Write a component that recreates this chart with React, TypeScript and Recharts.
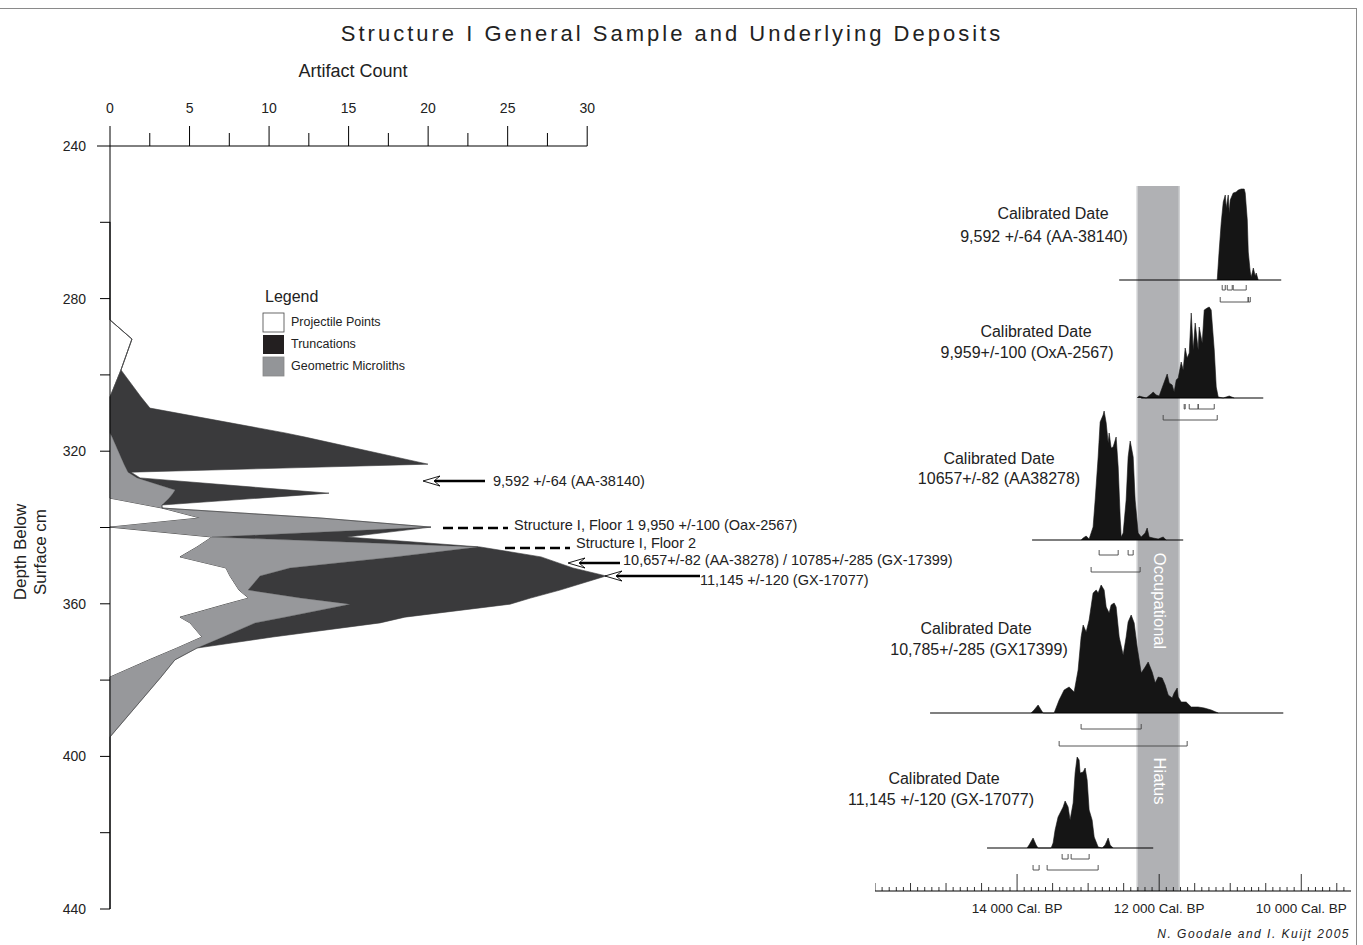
import React from 'react';
import {
  AreaChart,
  Area,
  ComposedChart,
  XAxis,
  YAxis,
  ReferenceLine
} from 'recharts';

// ---- left panel: artifact counts by depth (stacked) ----
const depths = [259.9, 285.6, 290.6, 298.7, 305.8, 308.7, 315.2, 316.3, 323.4, 325.5, 327.0, 330.2, 331.0, 332.3, 334.1, 334.9, 337.5, 339.9, 342.5, 345.1, 347.7, 350.6, 352.7, 356.4, 358.5, 360.1, 363.5, 365.0, 368.7, 371.6, 374.7, 379.2, 394.9, 440];
const projectilePoints = [0, 0, 1.38, 0.69, 0, 0, 0, 0, 0, 0, 0, 0, 0, 0, 2.26, 3.27, 5.66, 0, 6.41, 5.47, 4.4, 7.29, 7.54, 8.11, 8.71, 7.29, 4.4, 5.03, 5.78, 4.21, 2.45, 0, 0, 0];
const geometricMicroliths = [0, 0, 0, 0, 0, 0, 0, 0.13, 0.88, 1.13, 1.7, 4.09, 3.96, 3.71, 1.01, 0, 7.54, 20.18, 0, 17.67, 13.52, 4.02, 1.89, 0.57, 3.27, 7.8, 6.6, 4.09, 1.32, 1.26, 1.63, 3.21, 0, 0];
const truncations = [0, 0, 0, 0, 1.95, 2.51, 11.0, 12.13, 19.11, 0.19, 0.19, 7.23, 9.81, 5.66, 0, 0, 0, 0, 8.49, 0.13, 9.18, 17.79, 21.76, 19.61, 14.46, 10.06, 7.54, 7.86, 3.14, 0, 0, 0, 0, 0];

const artifactTicks = [0, 2.5, 5, 7.5, 10, 12.5, 15, 17.5, 20, 22.5, 25, 27.5, 30];
const depthTicks = [240, 260, 280, 300, 320, 340, 360, 380, 400, 420, 440];

// ---- right panel: calibrated date distributions [cal BP, relative probability] ----
const densityAA38140 = [[11183, 0], [11155, 30], [11127, 57], [11098, 78], [11070, 85], [11056, 72], [11028, 85], [11014, 67], [11000, 80], [10958, 87], [10915, 88], [10887, 90], [10845, 91], [10803, 91], [10789, 87], [10760, 60], [10746, 28], [10718, 8], [10704, 3], [10675, 12], [10648, 4], [10634, 7], [10606, 0]];
const densityOxA2567 = [[12310, 0], [12282, 2], [12183, 0], [12113, 4], [12084, 6], [12042, 3], [12000, 2], [11944, 13], [11887, 24], [11859, 15], [11817, 13], [11789, 6], [11760, 18], [11732, 20], [11690, 36], [11662, 28], [11634, 50], [11606, 40], [11577, 45], [11549, 85], [11521, 48], [11493, 75], [11451, 48], [11437, 71], [11394, 55], [11366, 88], [11324, 90], [11296, 91], [11268, 88], [11239, 61], [11225, 48], [11197, 11], [11169, 1], [11099, 0], [11014, 2], [10944, 0]];
const densityAA38278 = [[13099, 0], [13070, 2], [13028, 4], [12986, 1], [12930, 13], [12901, 40], [12859, 83], [12831, 118], [12789, 125], [12775, 129], [12746, 117], [12718, 97], [12704, 107], [12676, 92], [12648, 93], [12606, 103], [12577, 73], [12549, 23], [12535, 3], [12507, 7], [12465, 40], [12437, 83], [12408, 99], [12366, 83], [12338, 40], [12296, 7], [12253, 3], [12197, 7], [12169, 12], [12141, 3], [12085, 2], [12014, 1], [11944, 3], [11901, 0]];
const densityGX17399 = [[13803, 0], [13761, 3], [13704, 8], [13662, 3], [13634, 0], [13479, 0], [13408, 13], [13338, 23], [13268, 26], [13197, 21], [13141, 43], [13099, 76], [13070, 88], [13028, 81], [12986, 93], [12930, 120], [12887, 123], [12859, 120], [12817, 128], [12775, 123], [12746, 106], [12704, 100], [12676, 108], [12634, 110], [12606, 106], [12563, 76], [12507, 58], [12465, 76], [12437, 91], [12394, 98], [12352, 90], [12310, 66], [12253, 40], [12197, 46], [12155, 51], [12099, 41], [12056, 30], [12014, 36], [11958, 35], [11916, 28], [11873, 18], [11817, 15], [11789, 20], [11746, 25], [11732, 16], [11690, 11], [11620, 11], [11549, 6], [11451, 6], [11366, 5], [11268, 3], [11169, 0]];
const densityGX17077 = [[13859, 0], [13831, 3], [13775, 10], [13732, 3], [13704, 0], [13521, 0], [13493, 5], [13465, 18], [13423, 31], [13352, 41], [13324, 47], [13282, 41], [13254, 28], [13211, 45], [13183, 75], [13155, 91], [13127, 88], [13113, 75], [13070, 76], [13042, 80], [13014, 68], [12986, 38], [12944, 28], [12915, 11], [12859, 1], [12803, 0], [12761, 3], [12718, 10], [12690, 3], [12648, 0]];

// calibrated ranges (1 sigma, 2 sigma) and baseline extents, cal BP
const rangesAA38140 = { one: [[11113, 11070], [11042, 10972], [10958, 10775]], two: [[11141, 10747], [10747, 10718]], line: [12563, 10282] };
const rangesOxA2567 = { one: [[11648, 11634], [11577, 11451], [11451, 11225]], two: [[11944, 11183]], line: [12253, 10535] };
const rangesAA38278 = { one: [[12845, 12577], [12437, 12366]], two: [[12958, 12268]], line: [13789, 11662] };
const rangesGX17399 = { one: [[13099, 12253]], two: [[13408, 11606]], line: [15225, 10253] };
const rangesGX17077 = { one: [[13366, 13282], [13239, 12986]], two: [[13775, 13690], [13577, 12859]], line: [14423, 12084] };

// occupational gap (cal BP)
const hiatusBand = [12310, 11718];
const calTicks = Array.from({ length: 67 }, (_, i) => 9400 + i * 100);
const calLabels = [14000, 12000, 10000];

const FONT = "'Liberation Sans', Arial, Helvetica, sans-serif";
const CAL_LEFT = 875;
const CAL_W = 476;

const depthData = depths.map((depth, i) => ({
  depth,
  pp: projectilePoints[i],
  gm: geometricMicroliths[i],
  tr: truncations[i]
}));

const bandData = hiatusBand.map((bp) => ({ bp, band: 1 }));

const TopTick = (props: any) => {
  const { x, y, payload } = props;
  const v = payload.value;
  const major = v % 5 === 0;
  return (
    <g>
      <line x1={x} x2={x} y1={y} y2={y - (major ? 20 : 13)} stroke="#000" strokeWidth={1} />
      {major && (
        <text x={x} y={y - 33} textAnchor="middle" fontSize={14} fill="#222">
          {v}
        </text>
      )}
    </g>
  );
};

const DepthTick = (props: any) => {
  const { x, y, payload } = props;
  const v = payload.value;
  return (
    <g>
      <line x1={x - (v === 240 ? 13 : 10)} x2={x} y1={y} y2={y} stroke="#000" strokeWidth={1} />
      {v % 40 === 0 && (
        <text x={x - 24} y={y + 5} textAnchor="end" fontSize={14} fill="#222">
          {v}
        </text>
      )}
    </g>
  );
};

const CalTick = (props: any) => {
  const { x, y, payload } = props;
  const v = payload.value;
  const labelled = calLabels.includes(v);
  const len = labelled ? 17 : v % 500 === 0 ? 8 : 4;
  return (
    <g>
      <line x1={x} x2={x} y1={y} y2={y - len} stroke="#000" strokeWidth={0.8} />
      {labelled && (
        <text x={x} y={y + 22} textAnchor="middle" fontSize={13.5} fill="#222">
          {`${v / 1000} 000 Cal. BP`}
        </text>
      )}
    </g>
  );
};

function Bracket({ a, b, level }: { a: number; b: number; level: number }) {
  return (
    <>
      <ReferenceLine segment={[{ x: a, y: level + 5 }, { x: a, y: level }]} stroke="#444" strokeWidth={0.9} />
      <ReferenceLine segment={[{ x: a, y: level }, { x: b, y: level }]} stroke="#444" strokeWidth={0.9} />
      <ReferenceLine segment={[{ x: b, y: level }, { x: b, y: level + 5 }]} stroke="#444" strokeWidth={0.9} />
    </>
  );
}

function CalPanel({ density, ranges, base, d1, d2 }: any) {
  const data = density.map(([bp, p]: number[]) => ({ bp, p }));
  return (
    <div style={{ position: 'absolute', left: CAL_LEFT, top: base - 140 }}>
      <AreaChart width={CAL_W} height={180} data={data} margin={{ top: 0, right: 0, bottom: 0, left: 0 }}>
        <XAxis type="number" dataKey="bp" domain={[9300, 16000]} reversed hide />
        <YAxis type="number" domain={[-40, 140]} hide />
        <Area
          type="linear"
          dataKey="p"
          fill="#151515"
          fillOpacity={1}
          stroke="#151515"
          strokeWidth={0.6}
          isAnimationActive={false}
        />
        <ReferenceLine
          segment={[{ x: ranges.line[0], y: 0 }, { x: ranges.line[1], y: 0 }]}
          stroke="#000"
          strokeWidth={1.2}
        />
        {ranges.one.map((r: number[], i: number) => (
          <Bracket key={'o' + i} a={r[0]} b={r[1]} level={-d1} />
        ))}
        {ranges.two.map((r: number[], i: number) => (
          <Bracket key={'t' + i} a={r[0]} b={r[1]} level={-d2} />
        ))}
      </AreaChart>
    </div>
  );
}

function Arrow({ tip, tail, y }: { tip: number; tail: number; y: number }) {
  return (
    <g>
      <line x1={tip + 10} x2={tail} y1={y} y2={y} stroke="#000" strokeWidth={2.6} />
      <polygon
        points={`${tip},${y} ${tip + 17},${y - 5} ${tip + 11},${y} ${tip + 17},${y + 5}`}
        fill="#fff"
        stroke="#000"
        strokeWidth={0.9}
      />
    </g>
  );
}

const calTexts = [
  { x1: 1053, y1: 219, x2: 1044, y2: 242, t: '9,592 +/-64 (AA-38140)' },
  { x1: 1036, y1: 337, x2: 1027, y2: 358, t: '9,959+/-100 (OxA-2567)' },
  { x1: 999, y1: 464, x2: 999, y2: 484, t: '10657+/-82 (AA38278)' },
  { x1: 976, y1: 634, x2: 979, y2: 655, t: '10,785+/-285 (GX17399)' },
  { x1: 944, y1: 784, x2: 941, y2: 805, t: '11,145 +/-120 (GX-17077)' }
];

export default function App() {
  return (
    <div
      style={{
        position: 'absolute',
        left: 0,
        top: 0,
        width: 1363,
        height: 945,
        background: '#fff',
        fontFamily: FONT,
        overflow: 'hidden'
      }}
    >
      {/* occupational / hiatus band with calibrated-age axis */}
      <div style={{ position: 'absolute', left: CAL_LEFT, top: 186 }}>
        <ComposedChart
          width={CAL_W}
          height={735}
          data={bandData}
          margin={{ top: 0, right: 0, bottom: 0, left: 0 }}
        >
          <XAxis
            type="number"
            dataKey="bp"
            domain={[9300, 16000]}
            reversed
            ticks={calTicks}
            interval={0}
            height={30}
            tickLine={false}
            tickSize={0}
            tickMargin={0}
            axisLine={{ stroke: '#000', strokeWidth: 1 }}
            tick={CalTick}
          />
          <YAxis type="number" domain={[0, 1]} hide />
          <Area
            type="linear"
            dataKey="band"
            fill="#b0b1b4"
            fillOpacity={1}
            stroke="none"
            isAnimationActive={false}
          />
          <ReferenceLine x={hiatusBand[0]} stroke="#cfd0d2" strokeWidth={1.5} />
          <ReferenceLine x={hiatusBand[1]} stroke="#cfd0d2" strokeWidth={1.5} />
        </ComposedChart>
      </div>

      {/* depth profile */}
      <div style={{ position: 'absolute', left: 50, top: 76 }}>
        <AreaChart
          layout="vertical"
          width={571}
          height={843}
          data={depthData}
          margin={{ top: 30, right: 2, bottom: 10, left: 0 }}
        >
          <XAxis
            type="number"
            orientation="top"
            domain={[0, 32]}
            ticks={artifactTicks}
            interval={0}
            height={40}
            axisLine={false}
            tickLine={false}
            tickSize={0}
            tickMargin={0}
            tick={TopTick}
          />
          <YAxis
            type="number"
            dataKey="depth"
            domain={[240, 440]}
            ticks={depthTicks}
            interval={0}
            width={60}
            tickLine={false}
            tickSize={0}
            tickMargin={0}
            axisLine={{ stroke: '#000', strokeWidth: 1 }}
            tick={DepthTick}
          />
          <Area
            type="linear"
            dataKey="pp"
            stackId="a"
            fill="#ffffff"
            fillOpacity={1}
            stroke="#222"
            strokeWidth={0.8}
            isAnimationActive={false}
          />
          <Area
            type="linear"
            dataKey="gm"
            stackId="a"
            fill="#97989b"
            fillOpacity={1}
            stroke="#6d6e71"
            strokeWidth={0.6}
            isAnimationActive={false}
          />
          <Area
            type="linear"
            dataKey="tr"
            stackId="a"
            fill="#3a3a3c"
            fillOpacity={1}
            stroke="#3a3a3c"
            strokeWidth={0.6}
            isAnimationActive={false}
          />
          <ReferenceLine segment={[{ x: 0, y: 240 }, { x: 30, y: 240 }]} stroke="#000" strokeWidth={1} />
        </AreaChart>
      </div>

      <CalPanel density={densityAA38140} ranges={rangesAA38140} base={280} d1={10} d2={22} />
      <CalPanel density={densityOxA2567} ranges={rangesOxA2567} base={398} d1={11} d2={22} />
      <CalPanel density={densityAA38278} ranges={rangesAA38278} base={540} d1={15} d2={32} />
      <CalPanel density={densityGX17399} ranges={rangesGX17399} base={713} d1={16} d2={33} />
      <CalPanel density={densityGX17077} ranges={rangesGX17077} base={848} d1={11} d2={22} />

      <svg
        width={1363}
        height={945}
        style={{ position: 'absolute', left: 0, top: 0, pointerEvents: 'none' }}
        fontFamily={FONT}
      >
        <line x1={0} y1={8.5} x2={1356} y2={8.5} stroke="#8a8a8a" strokeWidth={1} />
        <line x1={1356.5} y1={8} x2={1356.5} y2={945} stroke="#8a8a8a" strokeWidth={1} />

        <text x={672} y={41} textAnchor="middle" fontSize={22} letterSpacing={3} fill="#222">
          Structure I General Sample and Underlying Deposits
        </text>
        <text x={353} y={77} textAnchor="middle" fontSize={18} fill="#222">
          Artifact Count
        </text>
        <text transform="translate(26,552) rotate(-90)" textAnchor="middle" fontSize={17} fill="#222">
          <tspan x={0} dy={0}>Depth Below</tspan>
          <tspan x={0} dy={20}>Surface cm</tspan>
        </text>

        {/* legend */}
        <text x={265} y={302} fontSize={16} fill="#222">Legend</text>
        <rect x={263} y={313} width={21} height={19} fill="#fff" stroke="#444" strokeWidth={0.8} />
        <rect x={263} y={335} width={21} height={19} fill="#231f20" />
        <rect x={263} y={357} width={21} height={19} fill="#939598" stroke="#888" strokeWidth={0.8} />
        <text x={291} y={326} fontSize={12.5} fill="#222">Projectile Points</text>
        <text x={291} y={348} fontSize={12.5} fill="#222">Truncations</text>
        <text x={291} y={370} fontSize={12.5} fill="#222">Geometric Microliths</text>

        {/* dates marked against the profile */}
        <Arrow tip={423} tail={485} y={481} />
        <text x={493} y={486} fontSize={14.5} fill="#222">9,592 +/-64 (AA-38140)</text>
        <line x1={443} x2={508} y1={528} y2={528} stroke="#000" strokeWidth={2.5} strokeDasharray="10 5" />
        <text x={514} y={530} fontSize={14.5} fill="#222">Structure I, Floor 1  9,950 +/-100 (Oax-2567)</text>
        <line x1={505} x2={570} y1={548} y2={548} stroke="#000" strokeWidth={2.5} strokeDasharray="10 5" />
        <text x={576} y={548} fontSize={14.5} fill="#222">Structure I, Floor 2</text>
        <Arrow tip={568} tail={620} y={563} />
        <text x={623} y={565} fontSize={14.5} fill="#222">10,657+/-82 (AA-38278) / 10785+/-285 (GX-17399)</text>
        <Arrow tip={605} tail={700} y={576} />
        <text x={700} y={585} fontSize={14.5} fill="#222">11,145 +/-120 (GX-17077)</text>

        {/* calibrated panels */}
        {calTexts.map((c, i) => (
          <g key={i} fontSize={16} fill="#222" textAnchor="middle">
            <text x={c.x1} y={c.y1}>Calibrated Date</text>
            <text x={c.x2} y={c.y2}>{c.t}</text>
          </g>
        ))}
        <text transform="translate(1160,601) rotate(90)" textAnchor="middle" dominantBaseline="central" fontSize={16.5} fill="#fff">
          Occupational
        </text>
        <text transform="translate(1160,781) rotate(90)" textAnchor="middle" dominantBaseline="central" fontSize={16.5} fill="#fff">
          Hiatus
        </text>

        <text x={1350} y={938} textAnchor="end" fontSize={12} fontStyle="italic" letterSpacing={1.5} fill="#222">
          N. Goodale and I. Kuijt 2005
        </text>
      </svg>
    </div>
  );
}
